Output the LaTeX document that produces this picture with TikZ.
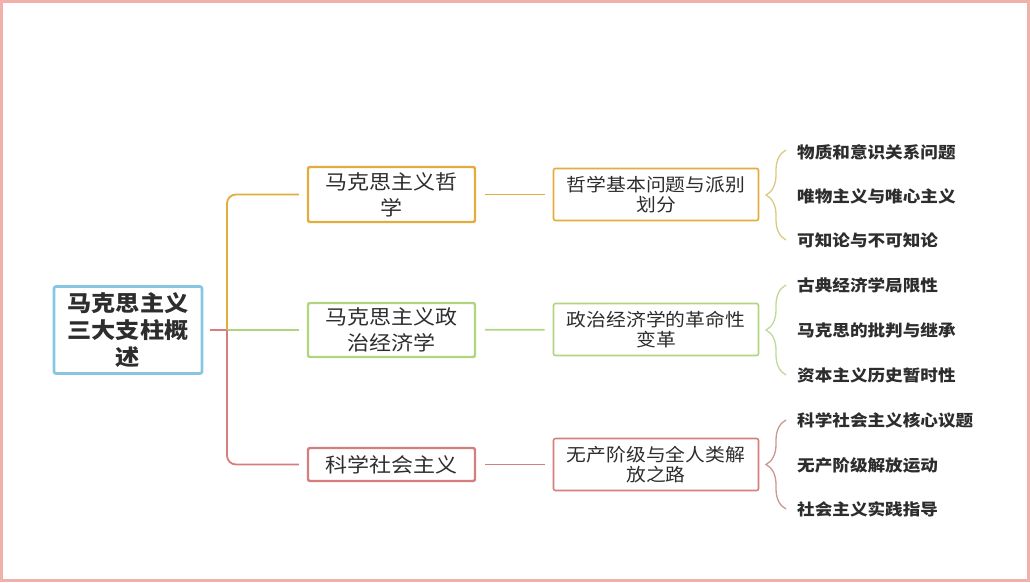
\documentclass[tikz,border=0pt]{standalone}
\usepackage{fontspec}
\setmainfont{Noto Sans CJK SC}[FakeStretch=1.1]
\usepackage{tikz}
\usetikzlibrary{positioning, calc, decorations.pathreplacing}
\definecolor{MMFrame}{RGB}{242,176,170}
\definecolor{MMBlue}{RGB}{135,198,226}
\definecolor{MMOrange}{RGB}{226,172,62}
\definecolor{MMGreen}{RGB}{178,212,128}
\definecolor{MMRed}{RGB}{214,126,126}
\definecolor{MMYelBr}{RGB}{218,202,128}
\definecolor{MMGrnBr}{RGB}{192,216,152}
\definecolor{MMRedBr}{RGB}{202,152,142}
\definecolor{MMText}{RGB}{45,45,45}

\begin{document}
\begin{tikzpicture}[x=1pt, y=-1pt,
          rootbox/.style={rectangle, rounded corners=2pt, draw=MMBlue, line width=2.6pt,
                          minimum width=148pt, minimum height=87pt, align=center,
                          text=MMText, font=\fontsize{22}{27}\selectfont\bfseries},
          pillar/.style={rectangle, rounded corners=2pt, line width=2.4pt,
                         minimum width=167pt, align=center, inner sep=2pt,
                         text=MMText, font=\fontsize{20}{26}\selectfont},
          topic/.style={rectangle, rounded corners=2pt, line width=1.6pt,
                        minimum width=205pt, minimum height=52pt, align=center, inner sep=2pt,
                        text=MMText, font=\fontsize{18}{20}\selectfont},
          leaf/.style={anchor=west, inner sep=0pt, text=MMText,
                       font=\fontsize{16}{18}\selectfont\bfseries},
          link/.style={line width=1.8pt, rounded corners=9pt},
          gap/.style={shorten <=9pt, shorten >=8pt},
          brc/.style={line width=1.3pt, decorate, decoration={brace, amplitude=20pt, aspect=0.5}}
        ]
        \useasboundingbox (0,0) rectangle (1030,582);
        \draw[MMFrame, line width=3pt] (1.5,1.5) rectangle (1028.5,580.5);

        % Centre and pillars
        \node[rootbox] (root) at (128,330) {马克思主义\\三大支柱概\\述};
        \coordinate (hub) at (227,330);
        \node[pillar, draw=MMOrange, minimum height=55pt] (phil) at (391.5,194.5) {马克思主义哲\\学};
        \node[pillar, draw=MMGreen, minimum height=54pt] (econ) at (391.5,330) {马克思主义政\\治经济学};
        \node[pillar, draw=MMRed, minimum height=33pt] (soc) at (391.5,464.5) {科学社会主义};

        % Topics
        \node[topic, draw=MMOrange] (basic) at (656,194.5) {哲学基本问题与派别\\划分};
        \node[topic, draw=MMGreen] (revo) at (656,329.5) {政治经济学的革命性\\变革};
        \node[topic, draw=MMRed] (free) at (656,464.5) {无产阶级与全人类解\\放之路};

        % Leaves
        \node[leaf] (p1) at (797,152) {物质和意识关系问题};
        \node[leaf] (p2) at (797,196) {唯物主义与唯心主义};
        \node[leaf] (p3) at (797,240) {可知论与不可知论};
        \node[leaf] (e1) at (797,285) {古典经济学局限性};
        \node[leaf] (e2) at (797,330) {马克思的批判与继承};
        \node[leaf] (e3) at (797,375) {资本主义历史暂时性};
        \node[leaf] (s1) at (797,420) {科学社会主义核心议题};
        \node[leaf] (s2) at (797,465) {无产阶级解放运动};
        \node[leaf] (s3) at (797,509) {社会主义实践指导};

        % Trunk
        \draw[link, MMRed, shorten <=7pt] (root.east) -- (hub);
        \draw[link, MMOrange, shorten >=8pt] (hub) |- (phil.west);
        \draw[link, MMGreen, shorten >=8pt] (hub) -- (econ.west);
        \draw[link, MMRed, shorten >=8pt] (hub) |- (soc.west);

        % Pillar to topic
        \draw[link, gap, MMOrange] (phil) -- (basic);
        \draw[link, gap, MMGreen] (econ) -- (revo);
        \draw[link, gap, MMRed] (soc) -- (free);

        % Braces
        \coordinate (pb) at ($(p3.west)+(-11,0)$);
        \coordinate (pt) at ($(p1.west)+(-11,-2)$);
        \coordinate (eb) at ($(e3.west)+(-11,0)$);
        \coordinate (et) at ($(e1.west)+(-11,0)$);
        \coordinate (sb) at ($(s3.west)+(-11,0)$);
        \coordinate (st) at ($(s1.west)+(-11,0)$);
        \draw[brc, MMYelBr] (pb) -- (pt);
        \draw[brc, MMGrnBr] (eb) -- (et);
        \draw[brc, MMRedBr] (sb) -- (st);
      \end{tikzpicture}
\end{document}
